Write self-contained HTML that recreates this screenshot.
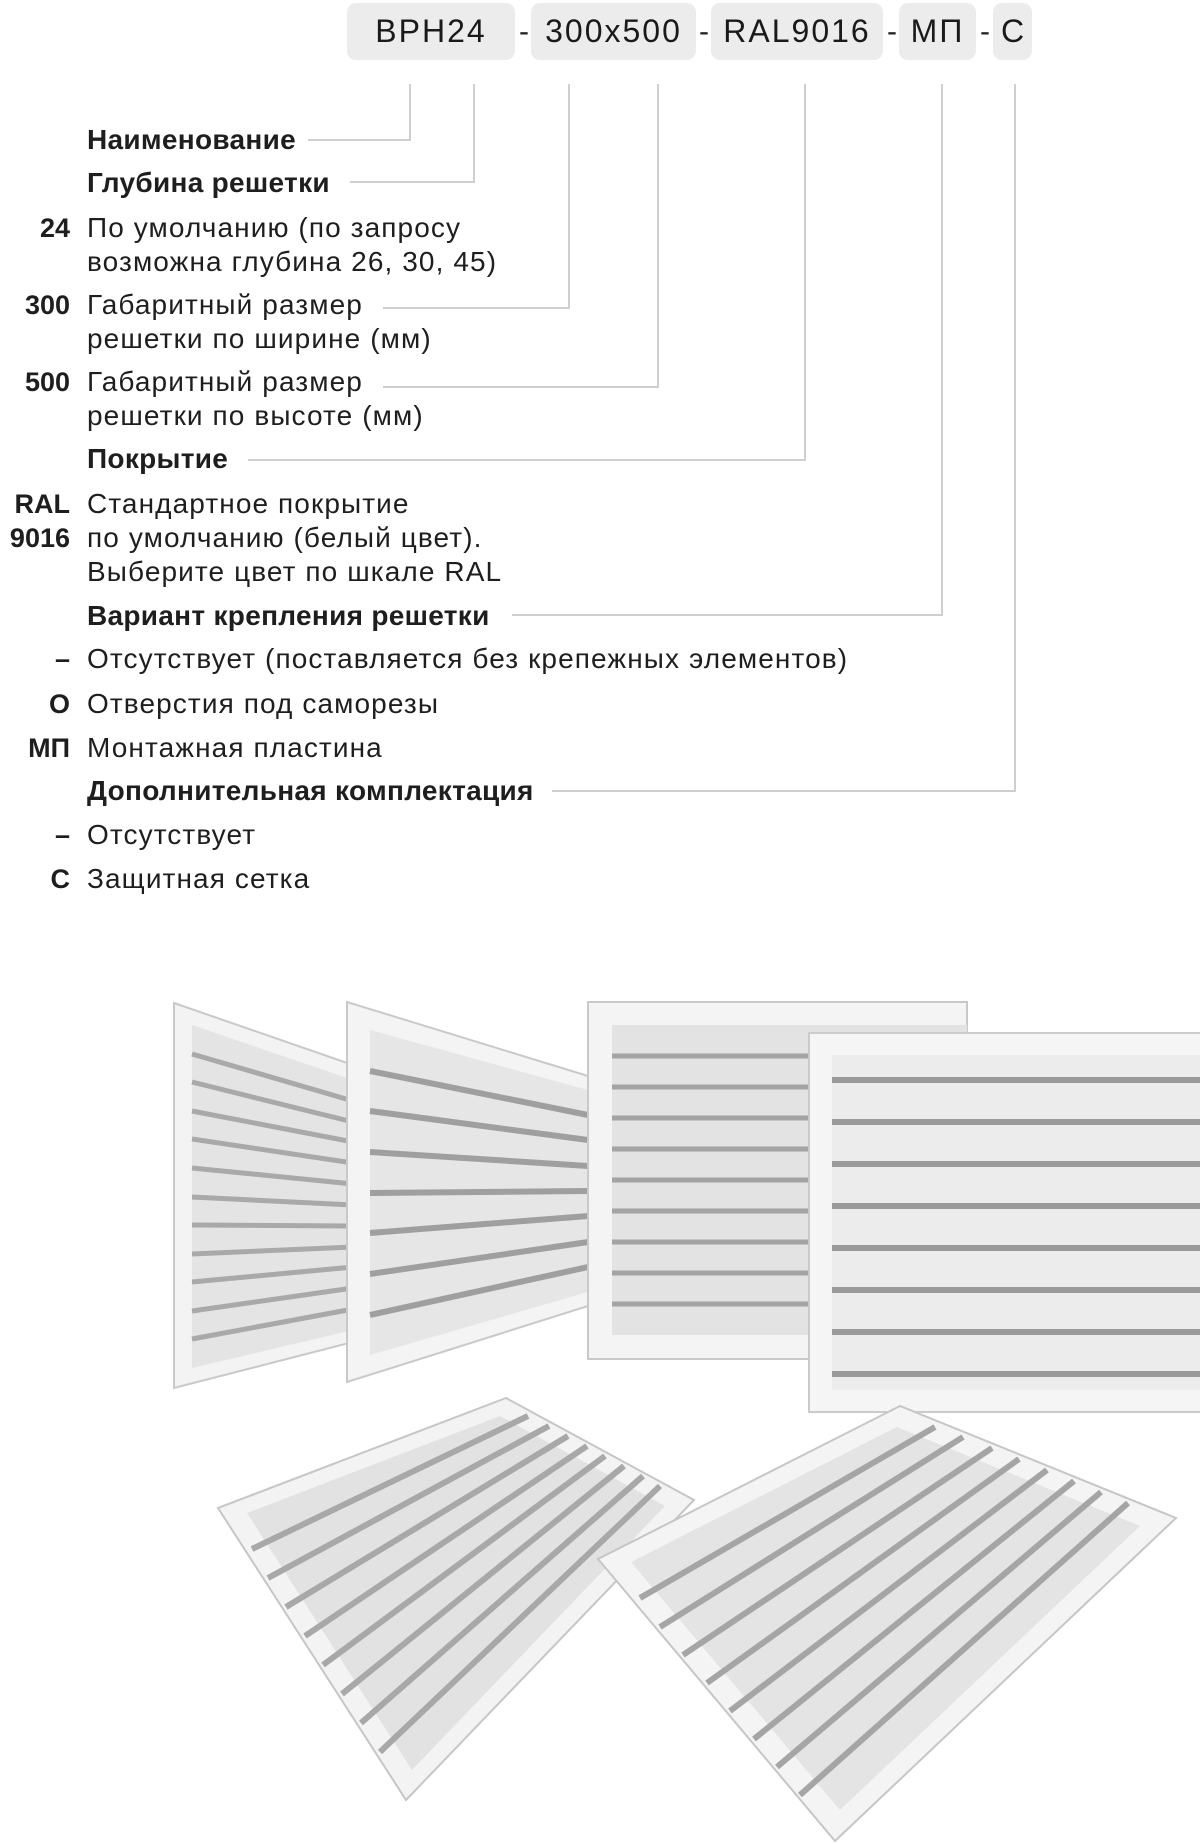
<!DOCTYPE html>
<html><head><meta charset="utf-8">
<style>
html,body{margin:0;padding:0;background:#fff;}
body{width:1200px;height:1844px;position:relative;overflow:hidden;font-family:"Liberation Sans","Noto Sans CJK SC",sans-serif;color:#1e1e1e;}
.box{position:absolute;top:3px;height:57px;background:#ececec;border-radius:9px;font-size:32px;line-height:57px;text-align:center;color:#1a1a1a;letter-spacing:2px;}
.dash{position:absolute;top:3px;line-height:57px;font-size:30px;color:#222;}
.t{position:absolute;left:87px;font-size:28px;line-height:34px;white-space:nowrap;letter-spacing:1.1px;}
.b{font-weight:bold;letter-spacing:0.3px;}
.k{position:absolute;right:1130px;font-size:27px;line-height:34px;font-weight:bold;text-align:right;white-space:nowrap;}
svg{position:absolute;left:0;top:0;}
</style></head><body>
<svg width="1200" height="1844">
<g stroke="#cfcfcf" stroke-width="2" fill="none">
<polyline points="308,140 410,140 410,84"/>
<polyline points="350,182 474,182 474,84"/>
<polyline points="383,308 569,308 569,84"/>
<polyline points="383,387 658,387 658,84"/>
<polyline points="248,460 805,460 805,84"/>
<polyline points="512,615 942,615 942,84"/>
<polyline points="552,791 1015,791 1015,84"/>
</g>
<polygon points="174,1003 353,1065 353,1342 174,1388" fill="#f3f3f3" stroke="#c9c9c9" stroke-width="2"/>
<polygon points="192,1025 353,1080 353,1330 192,1368" fill="#e4e4e4"/>
<g stroke="#a9a9a9" stroke-width="5">
<line x1="192" y1="1054" x2="353" y2="1101"/><line x1="192" y1="1082" x2="353" y2="1122"/><line x1="192" y1="1111" x2="353" y2="1142"/><line x1="192" y1="1139" x2="353" y2="1163"/><line x1="192" y1="1168" x2="353" y2="1184"/><line x1="192" y1="1197" x2="353" y2="1205"/><line x1="192" y1="1225" x2="353" y2="1226"/><line x1="192" y1="1254" x2="353" y2="1247"/><line x1="192" y1="1282" x2="353" y2="1267"/><line x1="192" y1="1311" x2="353" y2="1288"/><line x1="192" y1="1339" x2="353" y2="1309"/>
</g>
<polygon points="347,1002 588,1076 588,1306 347,1382" fill="#f4f4f4" stroke="#c9c9c9" stroke-width="2"/>
<polygon points="370,1030 588,1090 588,1292 370,1355" fill="#e6e6e6"/>
<g stroke="#9f9f9f" stroke-width="6">
<line x1="370" y1="1071" x2="588" y2="1115"/><line x1="370" y1="1111" x2="588" y2="1140"/><line x1="370" y1="1152" x2="588" y2="1166"/><line x1="370" y1="1193" x2="588" y2="1191"/><line x1="370" y1="1233" x2="588" y2="1216"/><line x1="370" y1="1274" x2="588" y2="1242"/><line x1="370" y1="1315" x2="588" y2="1267"/>
</g>
<rect x="588" y="1002" width="379" height="357" fill="#f4f4f4" stroke="#c9c9c9" stroke-width="2"/>
<rect x="612" y="1025" width="355" height="310" fill="#e3e3e3"/>
<g stroke="#a3a3a3" stroke-width="5">
<line x1="612" y1="1056" x2="967" y2="1056"/><line x1="612" y1="1087" x2="967" y2="1087"/><line x1="612" y1="1118" x2="967" y2="1118"/><line x1="612" y1="1149" x2="967" y2="1149"/><line x1="612" y1="1180" x2="967" y2="1180"/><line x1="612" y1="1211" x2="967" y2="1211"/><line x1="612" y1="1242" x2="967" y2="1242"/><line x1="612" y1="1273" x2="967" y2="1273"/><line x1="612" y1="1304" x2="967" y2="1304"/>
</g>
<rect x="809" y="1033" width="400" height="379" fill="#f5f5f5" stroke="#cbcbcb" stroke-width="2"/>
<rect x="832" y="1055" width="368" height="335" fill="#ececec"/>
<g stroke="#9a9a9a" stroke-width="6">
<line x1="832" y1="1080" x2="1200" y2="1080"/><line x1="832" y1="1122" x2="1200" y2="1122"/><line x1="832" y1="1164" x2="1200" y2="1164"/><line x1="832" y1="1206" x2="1200" y2="1206"/><line x1="832" y1="1248" x2="1200" y2="1248"/><line x1="832" y1="1290" x2="1200" y2="1290"/><line x1="832" y1="1332" x2="1200" y2="1332"/><line x1="832" y1="1374" x2="1200" y2="1374"/>
</g>
<polygon points="506,1398 218,1508 406,1800 694,1500" fill="#f3f3f3" stroke="#c6c6c6" stroke-width="2"/>
<polygon points="500,1416 247,1513 412,1770 665,1506" fill="#e2e2e2"/>
<g stroke="#a8a8a8" stroke-width="6">
<line x1="252" y1="1549" x2="528" y2="1416"/><line x1="268" y1="1578" x2="549" y2="1426"/><line x1="286" y1="1607" x2="568" y2="1436"/><line x1="305" y1="1636" x2="587" y2="1446"/><line x1="323" y1="1665" x2="605" y2="1456"/><line x1="342" y1="1694" x2="624" y2="1466"/><line x1="361" y1="1723" x2="643" y2="1476"/><line x1="380" y1="1752" x2="660" y2="1486"/>
</g>
<polygon points="900,1406 598,1559 835,1841 1176,1518" fill="#f4f4f4" stroke="#c6c6c6" stroke-width="2"/>
<polygon points="897,1427 631,1562 840,1810 1140,1526" fill="#e4e4e4"/>
<g stroke="#a5a5a5" stroke-width="6">
<line x1="640" y1="1598" x2="935" y2="1427"/><line x1="660" y1="1627" x2="963" y2="1437"/><line x1="683" y1="1655" x2="992" y2="1448"/><line x1="707" y1="1683" x2="1019" y2="1459"/><line x1="730" y1="1711" x2="1047" y2="1470"/><line x1="754" y1="1739" x2="1074" y2="1481"/><line x1="777" y1="1767" x2="1101" y2="1492"/><line x1="800" y1="1795" x2="1128" y2="1503"/>
</g>
</svg>

<div class="box" style="left:347px;width:168px;">BPH24</div>
<div class="dash" style="left:519px;">-</div>
<div class="box" style="left:531px;width:165px;">300x500</div>
<div class="dash" style="left:699px;">-</div>
<div class="box" style="left:711px;width:172px;">RAL9016</div>
<div class="dash" style="left:887px;">-</div>
<div class="box" style="left:899px;width:77px;">МП</div>
<div class="dash" style="left:980px;">-</div>
<div class="box" style="left:993px;width:39px;letter-spacing:0;">С</div>

<div class="t b" style="top:123px;">Наименование</div>
<div class="t b" style="top:166px;">Глубина решетки</div>
<div class="k" style="top:211px;">24</div>
<div class="t" style="top:211px;">По умолчанию (по запросу<br>возможна глубина 26, 30, 45)</div>
<div class="k" style="top:288px;">300</div>
<div class="t" style="top:288px;">Габаритный размер<br>решетки по ширине (мм)</div>
<div class="k" style="top:365px;">500</div>
<div class="t" style="top:365px;">Габаритный размер<br>решетки по высоте (мм)</div>
<div class="t b" style="top:442px;">Покрытие</div>
<div class="k" style="top:487px;">RAL<br>9016</div>
<div class="t" style="top:487px;">Стандартное покрытие<br>по умолчанию (белый цвет).<br>Выберите цвет по шкале RAL</div>
<div class="t b" style="top:599px;">Вариант крепления решетки</div>
<div class="k" style="top:642px;">–</div>
<div class="t" style="top:642px;">Отсутствует (поставляется без крепежных элементов)</div>
<div class="k" style="top:687px;">О</div>
<div class="t" style="top:687px;">Отверстия под саморезы</div>
<div class="k" style="top:731px;">МП</div>
<div class="t" style="top:731px;">Монтажная пластина</div>
<div class="t b" style="top:774px;">Дополнительная комплектация</div>
<div class="k" style="top:818px;">–</div>
<div class="t" style="top:818px;">Отсутствует</div>
<div class="k" style="top:862px;">С</div>
<div class="t" style="top:862px;">Защитная сетка</div>
</body></html>
